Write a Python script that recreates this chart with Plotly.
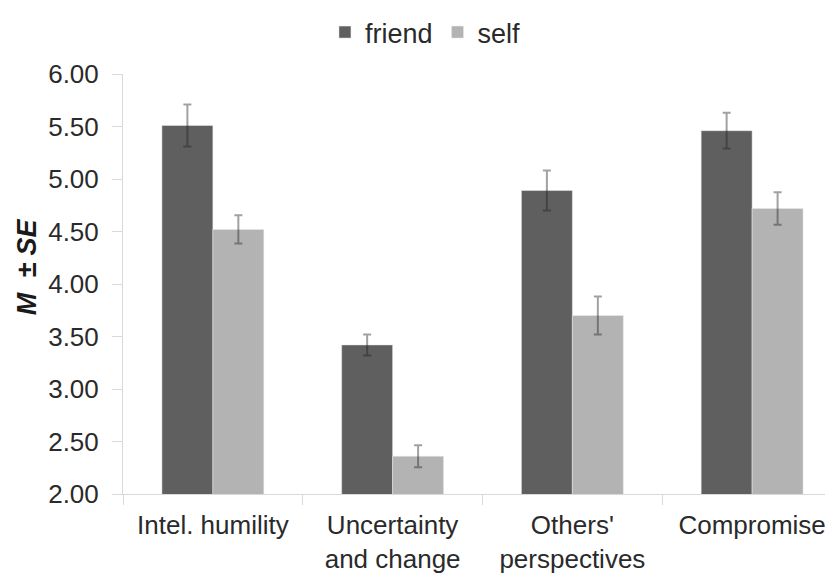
import plotly.graph_objects as go

categories = ["Intel. humility", "Uncertainty<br>and change", "Others'<br>perspectives", "Compromise"]
friend_mean = [5.51, 3.42, 4.89, 5.46]
friend_se = [0.20, 0.10, 0.19, 0.17]
self_mean = [4.52, 2.36, 3.70, 4.72]
self_se = [0.135, 0.105, 0.18, 0.155]
y_ticks = [2.0, 2.5, 3.0, 3.5, 4.0, 4.5, 5.0, 5.5, 6.0]
y_title = "<b><i>M  ± SE</i></b>"

FONT = "Liberation Sans"
TXT = "#2a2a2a"
err_style = dict(type="data", thickness=2, width=4, color="rgba(30,30,30,0.42)")

fig = go.Figure()
fig.add_trace(go.Bar(name="friend", x=categories, y=friend_mean, marker_color="#5f5f5f",
                     error_y=dict(array=friend_se, **err_style)))
fig.add_trace(go.Bar(name="self", x=categories, y=self_mean, marker_color="#b3b3b3",
                     error_y=dict(array=self_se, **err_style)))

fig.add_annotation(text=y_title, xref="paper", yref="paper", x=-0.135, y=0.54,
                   xanchor="center", yanchor="middle", textangle=-90, showarrow=False,
                   font=dict(family=FONT, size=27, color="#1a1a1a"))

fig.update_layout(
    width=825, height=571,
    margin=dict(l=115, r=0, t=55, b=85),
    plot_bgcolor="white", paper_bgcolor="white",
    barmode="group", bargap=0.433, bargroupgap=0,
    font=dict(family=FONT, size=26, color=TXT),
    legend=dict(orientation="h", x=0.426, xanchor="center", y=1.1, yanchor="middle",
                font=dict(size=27, color=TXT), itemwidth=30, tracegroupgap=0),
    xaxis=dict(range=[-0.5, 3.45], showline=True, linecolor="#d9d9d9", linewidth=1,
               ticks="outside", tickson="boundaries", ticklen=10, tickcolor="#d9d9d9",
               ticklabelstandoff=8, tickfont=dict(size=26, color=TXT)),
    yaxis=dict(range=[2, 6], tickvals=y_ticks, tickformat=".2f", showgrid=False,
               showline=True, linecolor="#d9d9d9", linewidth=1, ticks="outside",
               ticklen=10, tickcolor="#d9d9d9", zeroline=False, ticklabelstandoff=8,
               tickfont=dict(size=26, color=TXT)),
)

fig.write_html("out.html")
